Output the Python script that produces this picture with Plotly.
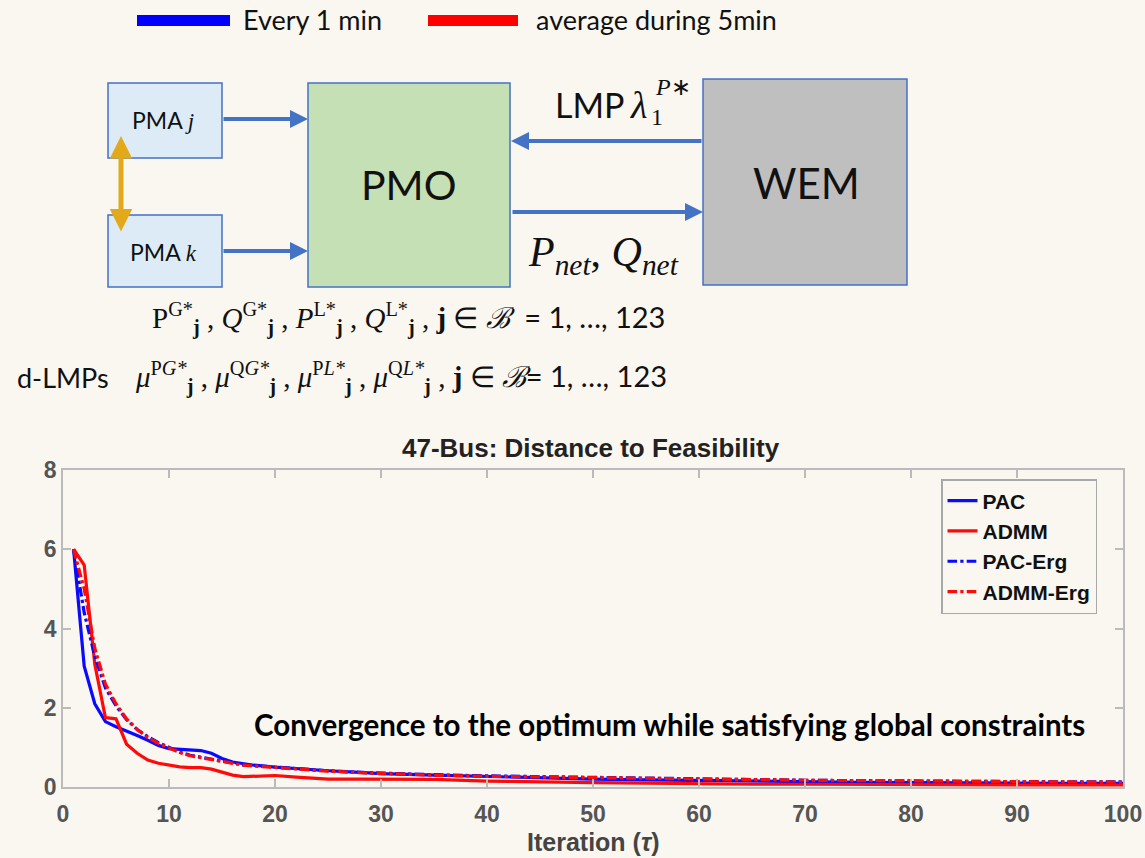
import plotly.graph_objects as go

W, H = 1145, 858

# ---------------- data ----------------
iters = [1, 2, 3, 4, 5, 6, 7, 8, 9, 10, 11, 12, 13, 14, 15, 16, 17, 18, 20, 22,
         25, 28, 30, 35, 40, 45, 50, 55, 60, 65, 70, 75, 80, 85, 90, 95, 100]
pac = [6.0, 3.05, 2.1, 1.65, 1.52, 1.42, 1.3, 1.18, 1.05, 0.97, 0.95, 0.95, 0.92, 0.85,
       0.72, 0.63, 0.58, 0.55, 0.5, 0.46, 0.41, 0.37, 0.34, 0.3, 0.26, 0.23, 0.2, 0.18,
       0.16, 0.14, 0.13, 0.12, 0.11, 0.1, 0.1, 0.09, 0.09]
admm = [6.0, 5.6, 3.1, 1.75, 1.72, 1.08, 0.85, 0.68, 0.6, 0.55, 0.51, 0.49, 0.49, 0.45,
        0.38, 0.3, 0.26, 0.27, 0.29, 0.25, 0.2, 0.2, 0.2, 0.19, 0.15, 0.12, 0.11, 0.1,
        0.08, 0.07, 0.07, 0.06, 0.06, 0.06, 0.05, 0.05, 0.05]
pac_erg = [6.0, 4.4, 3.3, 2.5, 2.05, 1.7, 1.45, 1.27, 1.12, 1.0, 0.88, 0.8, 0.75, 0.7,
           0.64, 0.6, 0.56, 0.54, 0.5, 0.46, 0.41, 0.37, 0.35, 0.31, 0.28, 0.26, 0.24,
           0.22, 0.2, 0.18, 0.17, 0.16, 0.15, 0.14, 0.14, 0.13, 0.13]
admm_erg = [6.0, 5.0, 3.5, 2.6, 2.1, 1.72, 1.45, 1.25, 1.1, 0.98, 0.87, 0.79, 0.74, 0.69,
            0.63, 0.59, 0.55, 0.53, 0.49, 0.45, 0.4, 0.36, 0.34, 0.3, 0.27, 0.25, 0.23,
            0.21, 0.19, 0.18, 0.17, 0.16, 0.15, 0.14, 0.14, 0.13, 0.12]
x_ticks = [0, 10, 20, 30, 40, 50, 60, 70, 80, 90, 100]
y_ticks = [0, 2, 4, 6, 8]
series_names = ["PAC", "ADMM", "PAC-Erg", "ADMM-Erg"]

BG = "#FAF7F0"
BLUE = "#0A0AFF"
RED = "#FF0A0A"
AXC = "#BBBBBB"
SANS = "Lato"
HELV = "Liberation Sans"
SERIF = "Liberation Serif"


def X(px):
    return px / W


def Y(py):
    return 1 - py / H


fig = go.Figure()
styles = [(pac, BLUE, "solid"), (admm, RED, "solid"),
          (pac_erg, BLUE, "dashdot"), (admm_erg, RED, "dashdot")]
for name, (vals, col, dash) in zip(series_names, styles):
    fig.add_trace(go.Scatter(x=iters, y=vals, name=name, mode="lines",
                             line=dict(color=col, width=3.2, dash=dash)))

tickfont = dict(family=HELV, size=23, color="#555555", weight="bold")
fig.update_layout(
    width=W, height=H, margin=dict(l=0, r=0, t=0, b=0),
    paper_bgcolor=BG, plot_bgcolor=BG, showlegend=True,
    xaxis=dict(domain=[X(63), X(1123)], range=[0, 100], tickvals=x_ticks,
               ticks="inside", ticklen=8, tickcolor=AXC, tickwidth=1.5,
               showline=True, linecolor=AXC, linewidth=1.5, mirror="ticks",
               showgrid=False, zeroline=False, tickfont=tickfont, automargin=False,
               ticklabelstandoff=6),
    yaxis=dict(domain=[Y(787), Y(470)], range=[0, 8], tickvals=y_ticks,
               ticks="inside", ticklen=8, tickcolor=AXC, tickwidth=1.5,
               showline=True, linecolor=AXC, linewidth=1.5, mirror="ticks",
               showgrid=False, zeroline=False, tickfont=tickfont, automargin=False),
    legend=dict(x=X(941), y=Y(479), xanchor="left", yanchor="top",
                bgcolor=BG, bordercolor="#A8A8A8", borderwidth=1.5,
                font=dict(family=HELV, size=21, color="#111111", weight="bold"),
                tracegroupgap=0, itemwidth=30),
)

shapes = []
ann = []


def rect(x0, y0, x1, y1, fill, line="#4472C4", lw=1.5):
    shapes.append(dict(type="rect", xref="paper", yref="paper",
                       x0=X(x0), x1=X(x1), y0=Y(y1), y1=Y(y0),
                       fillcolor=fill, line=dict(color=line, width=lw), layer="above"))


def text(px, py, t, size, family=SANS, xanchor="center", color="#111111", weight="normal"):
    ann.append(dict(xref="paper", yref="paper", x=X(px), y=Y(py), text=t,
                    showarrow=False, xanchor=xanchor, yanchor="middle",
                    font=dict(family=family, size=size, color=color, weight=weight)))


def arrow(tx, ty, hx, hy, color="#4472C4", width=4, both=False):
    ann.append(dict(xref="paper", yref="paper", x=X(hx), y=Y(hy),
                    ax=tx - hx, ay=ty - hy, axref="pixel", ayref="pixel",
                    text="", showarrow=True, arrowhead=2, arrowsize=0.9,
                    arrowwidth=width, arrowcolor=color, standoff=0, startstandoff=0,
                    arrowside="end+start" if both else "end",
                    startarrowhead=2, startarrowsize=0.9))


# top legend
rect(137, 15, 230, 26, "#0000FF", line="#0000FF", lw=0)
rect(428, 15, 518, 26, "#FF0000", line="#FF0000", lw=0)
text(241, 20, "Every 1 min", 27, xanchor="left")
text(534, 20, "average during 5min", 27, xanchor="left")

# diagram boxes
rect(108, 83, 222, 158, "#DDEBF7")
rect(108, 215, 222, 287, "#DDEBF7")
rect(308, 83, 510, 287, "#C5E0B4")
rect(703, 79, 907, 285, "#BFBFBF")

SER = "font-family:'Liberation Serif';"
text(163, 120, "PMA <span style=\"" + SER + "\"><i>j</i></span>", 23)
text(163, 252, "PMA <span style=\"" + SER + "\"><i>k</i></span>", 23)
text(409, 185, "PMO", 41)
text(806, 183, "WEM", 42)

arrow(222, 119, 308, 119)
arrow(222, 251, 308, 251)
arrow(703, 141, 511, 141)
arrow(511, 212, 703, 212)
arrow(121, 233, 121, 136, color="#E2AA1A", width=5, both=True)

text(553, 104, "LMP", 34, xanchor="left")
text(628, 105, "<i>λ</i>", 38, family=SERIF, xanchor="left")
text(649, 117, "1", 24, family=SERIF, xanchor="left")
text(653, 87, "<i>P</i>∗", 24, family=SERIF, xanchor="left")
text(526, 255, "<i>P</i><sub><i>net</i></sub>, <i>Q</i><sub><i>net</i></sub>", 42,
     family=SERIF, xanchor="left")

line1 = ("P<sup>G*</sup><sub><b>j</b></sub> , <i>Q</i><sup>G*</sup><sub><b>j</b></sub> , "
         "<i>P</i><sup>L*</sup><sub><b>j</b></sub> , <i>Q</i><sup>L*</sup><sub><b>j</b></sub> , "
         "<b>j</b> ∈ <i>ℬ</i>  <span style=\"font-family:Lato;\">= 1, …, 123</span>")
text(150, 318, line1, 29, family=SERIF, xanchor="left")
text(15, 377, "d-LMPs", 27, xanchor="left")
line2 = ("<i>μ</i><sup>P<i>G*</i></sup><sub><b>j</b></sub> , <i>μ</i><sup>Q<i>G*</i></sup><sub><b>j</b></sub> , "
         "<i>μ</i><sup>P<i>L*</i></sup><sub><b>j</b></sub> , <i>μ</i><sup>Q<i>L*</i></sup><sub><b>j</b></sub> , "
         "<b>j</b> ∈ <i>ℬ</i><span style=\"font-family:Lato;\">= 1, …, 123</span>")
text(133, 377, line2, 29, family=SERIF, xanchor="left")

# chart texts
text(591, 448, "47-Bus: Distance to Feasibility", 26, family=HELV, weight="bold", color="#222222")
text(593, 842, "Iteration (<i>τ</i>)", 25, family=HELV, weight="bold", color="#444444")
text(669, 724, "Convergence to the optimum while satisfying global constraints", 29.5,
     family=SANS, weight="bold", color="#000000")

fig.update_layout(shapes=shapes, annotations=ann)
fig.write_html("out.html", config={"displayModeBar": False},
               post_script="document.body.style.margin='0px';"
                           "document.body.style.overflow='hidden';"
                           "document.body.style.background='" + BG + "';")
